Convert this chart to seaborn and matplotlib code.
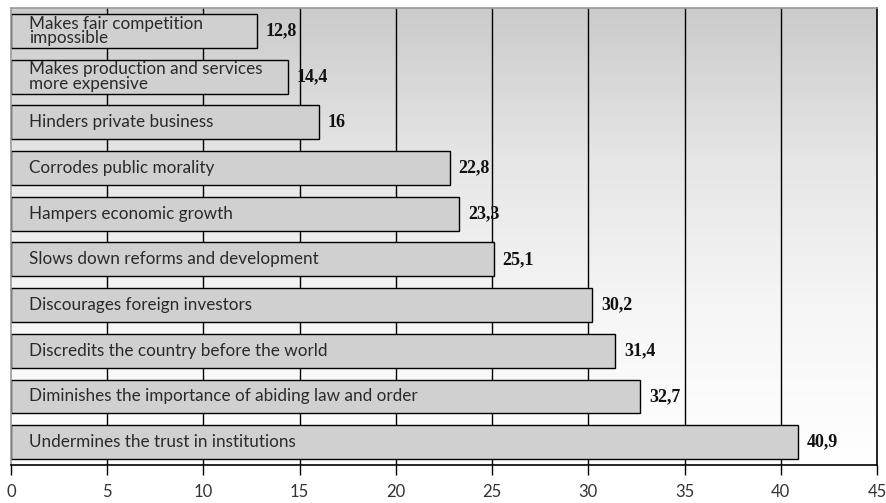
import numpy as np
import pandas as pd
import matplotlib.pyplot as plt
import seaborn as sns

# Data (top to bottom as drawn)
categories = [
    "Makes fair competition\nimpossible",
    "Makes production and services\nmore expensive",
    "Hinders private business",
    "Corrodes public morality",
    "Hampers economic growth",
    "Slows down reforms and development",
    "Discourages foreign investors",
    "Discredits the country before the world",
    "Diminishes the importance of abiding law and order",
    "Undermines the trust in institutions",
]
values = [12.8, 14.4, 16, 22.8, 23.3, 25.1, 30.2, 31.4, 32.7, 40.9]
value_labels = ["12,8", "14,4", "16", "22,8", "23,3", "25,1", "30,2", "31,4", "32,7", "40,9"]

df = pd.DataFrame({"category": categories, "value": values})

sns.set_style("white")
plt.rcParams["font.family"] = ["Lato", "DejaVu Sans"]

fig = plt.figure(figsize=(8.87, 5.03), dpi=100)
ax = fig.add_axes([0.0124, 0.0755, 0.9763, 0.9085])

# gradient background, grey at top to white at bottom
grad = np.linspace(0, 1, 256).reshape(-1, 1)
ax.imshow(grad, cmap=sns.blend_palette(["#cbcbcb", "#e6e6e6", "#f6f6f6", "#ffffff"], as_cmap=True),
          aspect="auto", extent=[0, 45, 9.5, -0.5], zorder=0, interpolation="bicubic")

sns.barplot(data=df, x="value", y="category", orient="h", color="#d0d0d0",
            saturation=1, width=0.74, edgecolor="black", linewidth=1, ax=ax, zorder=3)

for x in range(5, 45, 5):
    ax.axvline(x, color="black", lw=1, zorder=1)

for i, (v, lab, cat) in enumerate(zip(values, value_labels, categories)):
    ax.text(0.95, i, cat, va="center", ha="left", fontsize=12.3, color="#2a2a2a",
            linespacing=0.88, zorder=4)
    ax.text(v + 0.45, i, lab, va="center", ha="left", fontsize=13, fontweight="bold",
            family="Liberation Serif", color="#111111", zorder=4)

ax.set_xlim(0, 45)
ax.set_ylim(9.5, -0.5)
ax.set_xticks(range(0, 50, 5))
ax.set_xlabel("")
ax.set_ylabel("")
ax.set_yticks([])
ax.tick_params(axis="x", direction="out", length=7, width=1, color="black",
               pad=7, labelsize=12, labelcolor="#333333", bottom=True)
for s in ["left", "top"]:
    ax.spines[s].set_color("#999999")
ax.spines["right"].set_color("black")
ax.spines["bottom"].set_color("black")
for s in ax.spines.values():
    s.set_linewidth(1.2)
    s.set_zorder(5)

fig.savefig("out.png", dpi=100)
